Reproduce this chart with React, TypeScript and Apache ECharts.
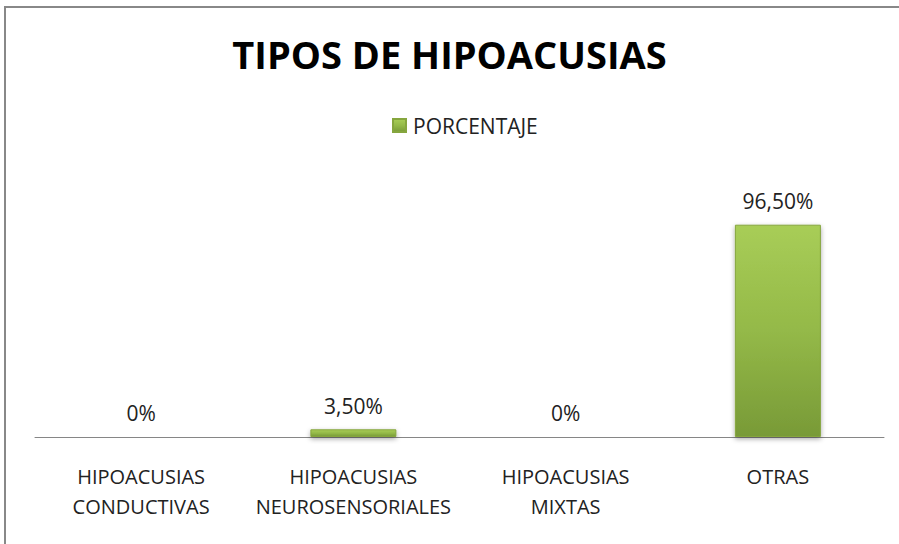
import React, { useEffect, useRef } from "react";
import * as echarts from "echarts";

const categories = ["HIPOACUSIAS\nCONDUCTIVAS", "HIPOACUSIAS\nNEUROSENSORIALES", "HIPOACUSIAS\nMIXTAS", "OTRAS"];
const values = [0, 3.5, 0, 96.5];
const valueLabels = ["0%", "3,50%", "0%", "96,50%"];
const seriesName = "PORCENTAJE";
const titleText = "TIPOS DE HIPOACUSIAS";

export default function App() {
  const ref = useRef<HTMLDivElement>(null);
  useEffect(() => {
    const chart = echarts.init(ref.current!, null, { renderer: "svg" });
    const font = "'Open Sans', 'DejaVu Sans', sans-serif";
    chart.setOption({
      animation: false,
      backgroundColor: "#ffffff",
      title: {
        text: titleText,
        left: "center",
        top: 30,
        textStyle: { fontFamily: font, fontWeight: "bold", fontSize: 38, color: "#000000" },
      },
      legend: {
        data: [seriesName],
        top: 110,
        left: 387,
        icon: "rect",
        itemWidth: 13,
        itemHeight: 13,
        itemGap: 6,
        textStyle: { fontFamily: font, fontSize: 21, color: "#222", padding: [0, 0, 0, 2] },
      },
      graphic: [
        {
          type: "rect",
          shape: { x: 5, y: 7, width: 1000, height: 1000 },
          style: { fill: "none", stroke: "#888888", lineWidth: 2 },
          silent: true,
        },
      ],
      grid: { left: 35, right: 15, top: 217, bottom: 544 - 437, containLabel: false },
      xAxis: {
        type: "category",
        data: categories,
        axisLine: { show: true, lineStyle: { color: "#868686", width: 1 } },
        axisTick: { show: false },
        axisLabel: {
          interval: 0,
          margin: 24,
          fontFamily: font,
          fontSize: 20,
          lineHeight: 30,
          color: "#222",
        },
      },
      yAxis: {
        type: "value",
        min: 0,
        max: 100,
        show: false,
        splitLine: { show: false },
      },
      series: [
        {
          name: seriesName,
          type: "bar",
          data: values,
          barWidth: 86,
          itemStyle: {
            color: new echarts.graphic.LinearGradient(0, 0, 0, 1, [
              { offset: 0, color: "#a8cd57" },
              { offset: 0.5, color: "#94b948" },
              { offset: 1, color: "#789a37" },
            ]),
            borderColor: "#86a63e",
            borderWidth: 1,
            shadowColor: "rgba(0,0,0,0.35)",
            shadowBlur: 5,
            shadowOffsetY: 2,
          },
          label: {
            show: true,
            position: "top",
            distance: 13,
            fontFamily: font,
            fontSize: 21,
            color: "#222",
            formatter: (p: any) => valueLabels[p.dataIndex],
          },
        },
      ],
    });
    return () => chart.dispose();
  }, []);
  return (
    <div
      ref={ref}
      style={{ position: "fixed", left: 0, top: 0, width: 899, height: 544 }}
    />
  );
}
